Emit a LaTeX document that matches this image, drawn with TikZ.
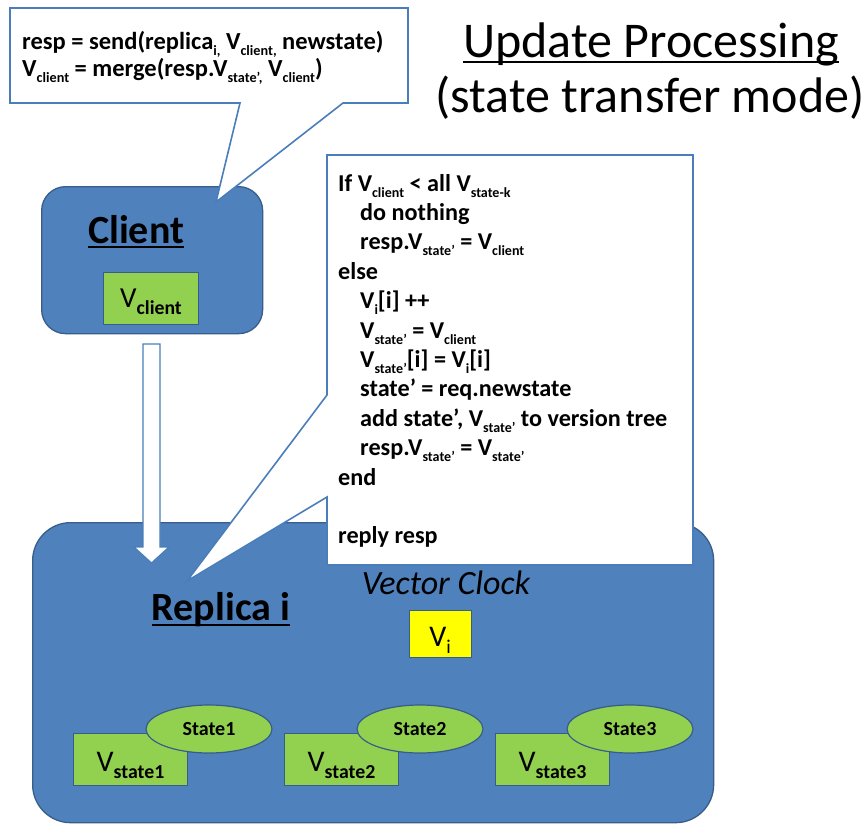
\documentclass[tikz,border=0pt]{standalone}
\usepackage{fontspec}
\setmainfont{Carlito}
\usepackage{graphicx}
\usetikzlibrary{shapes.geometric}
\definecolor{obl}{HTML}{4F81BD}
\definecolor{obd}{HTML}{385D8A}
\definecolor{cob}{HTML}{4A7EBB}
\definecolor{ogr}{HTML}{92D050}
\definecolor{oyl}{HTML}{FFFF00}
\newcommand\sbs[2][0.58]{\raisebox{-0.25em}{\scalebox{#1}{#2}}}
\newcommand\ulx[3]{\setbox0\hbox{#1}\rlap{\rule[-#2]{\wd0}{#3}}\box0}
\tikzset{
  bluebox/.style={draw=obd, line width=1.3pt, fill=obl, inner sep=0pt, anchor=north west},
  greenbox/.style={draw=obd, line width=1pt, fill=ogr, inner sep=0pt, anchor=north west},
  yellowbox/.style={draw=obd, line width=1pt, fill=oyl, inner sep=0pt, anchor=north west},
  stateell/.style={ellipse, draw=obd, line width=1.2pt, fill=ogr, inner sep=0pt,
     minimum width=126pt, minimum height=48pt, font={\bfseries\fontsize{20}{24}\selectfont}},
  callout/.style={draw=cob, line width=1.6pt, fill=white, line join=miter},
  blockarrow/.style={draw=cob, line width=1.2pt, fill=white},
  codetxt/.style={anchor=base west, inner sep=0pt, font={\bfseries\fontsize{24.2}{28}\selectfont}},
  toptxt/.style={anchor=base west, inner sep=0pt, font={\bfseries\fontsize{24.5}{28}\selectfont}},
  vlabel/.style={anchor=base, inner sep=0pt, font={\bfseries\fontsize{29}{34}\selectfont}},
  headtxt/.style={anchor=base, inner sep=0pt, font={\bfseries\fontsize{40}{48}\selectfont}},
  titletxt/.style={anchor=base, inner sep=0pt, font={\fontsize{50}{60}\selectfont}},
}
\begin{document}
\begin{tikzpicture}[x=1pt,y=-1pt]
\useasboundingbox (0,0) rectangle (867,825);
\fill[white] (0,0) rectangle (867,825);

% title
\node[titletxt] (title1) at (651,57) {\ulx{Update Processing}{5.5pt}{1.6pt}};
\node[titletxt] (title2) at (650,112) {(state transfer mode)};

% replica box
\node[bluebox, rounded corners=38pt, minimum width=681pt, minimum height=300pt] (replica) at (32,522) {};
\node[headtxt] (replicalbl) at (221,620) {\ulx{Replica i}{6pt}{2.5pt}};
\node[anchor=base, inner sep=0pt, font={\itshape\fontsize{34}{40}\selectfont}] (vclock) at (446,594) {Vector Clock};
\node[yellowbox, minimum width=62pt, minimum height=47pt] (vi) at (409,610) {};
\node[vlabel, font={\fontsize{30}{34}\selectfont}] (vilbl) at (440,646) {V\sbs[0.65]{i}};

% states
\foreach \k/\x/\cx in {1/73/209, 2/284/420, 3/495/630}{
  \node[greenbox, minimum width=114pt, minimum height=52pt] (vs\k) at (\x,733) {};
  \node[vlabel, font={\fontsize{30}{34}\selectfont}] (vs\k lbl) at ([xshift=57.5pt]vs\k.north west |- 0,771) {V\sbs[0.66]{\bfseries state\k}};
  \node[stateell] (st\k) at (\cx,729) {State\k};
}

% client box
\node[bluebox, rounded corners=24pt, minimum width=221pt, minimum height=147pt] (client) at (41,186) {};
\node[headtxt] (clientlbl) at (136,243) {\ulx{Client}{5pt}{2.5pt}};
\node[greenbox, minimum width=95pt, minimum height=52pt] (vc) at (103,272) {};
\node[vlabel, font={\fontsize{29}{34}\selectfont}] (vclbl) at (151,307) {V\sbs[0.68]{\bfseries client}};

% block arrow from client to replica
\coordinate (arS) at (151.5,344);
\coordinate (arE) at (151.5,563);
\draw[blockarrow] ([xshift=-8.5pt]arS) -- ([xshift=8.5pt]arS) -- ([xshift=8.5pt]arE |- 0,547)
  -- ([xshift=17.5pt]arE |- 0,547) -- (arE) -- ([xshift=-17.5pt]arE |- 0,547)
  -- ([xshift=-8.5pt]arE |- 0,547) -- cycle;

% top callout
\coordinate (c1tip) at (216,202);
\draw[callout] (10,8) -- (408,8) -- (408,103) -- (343,103) -- (c1tip) -- (240,103) -- (10,103) -- cycle;
\node[toptxt] (send) at (22,49) {resp = send(replica\sbs{i,} V\sbs{client,} newstate)};
\node[toptxt] (merge) at (22,76) {V\sbs{client} = merge(resp.V\sbs{state’,} V\sbs{client})};

% big callout
\coordinate (c2tip) at (187,581);
\draw[callout] (327,155) -- (693,155) -- (693,565) -- (327,565) -- (327,497) -- (c2tip) -- (327,395) -- cycle;
\node[codetxt] (l1) at (338,191) {If V\sbs{client} < all V\sbs{state-k}};
\node[codetxt] (l2) at (360,220.4) {do nothing};
\node[codetxt] (l3) at (360,249.8) {resp.V\sbs{state’} = V\sbs{client}};
\node[codetxt] (l4) at (338,279.2) {else};
\node[codetxt] (l5) at (360,308.6) {V\sbs{i}[i] ++};
\node[codetxt] (l6) at (360,338) {V\sbs{state’} = V\sbs{client}};
\node[codetxt] (l7) at (360,367.4) {V\sbs{state’}[i] = V\sbs{i}[i]};
\node[codetxt] (l8) at (360,396.8) {state’ = req.newstate};
\node[codetxt] (l9) at (360,426.2) {add state’, V\sbs{state’} to version tree};
\node[codetxt] (l10) at (360,455.6) {resp.V\sbs{state’} = V\sbs{state’}};
\node[codetxt] (l11) at (338,485) {end};
\node[codetxt] (l12) at (338,543.8) {reply resp};
\end{tikzpicture}
\end{document}
